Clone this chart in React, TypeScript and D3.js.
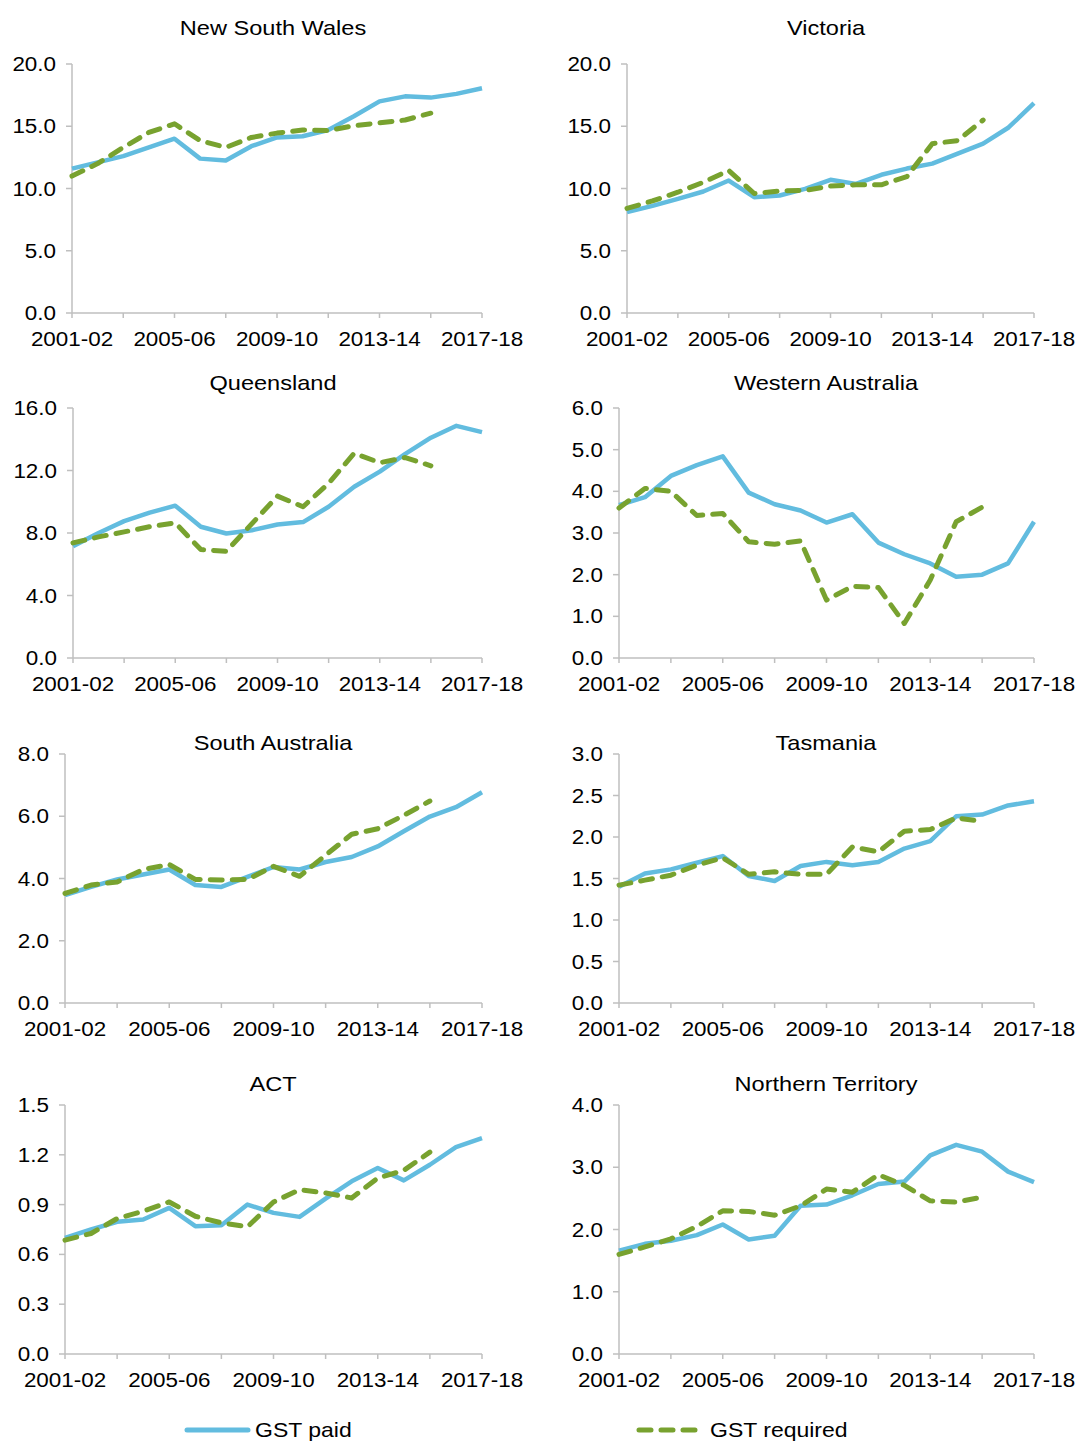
import React from 'react';
import * as d3 from 'd3';

const years = ['2001-02','2002-03','2003-04','2004-05','2005-06','2006-07','2007-08','2008-09','2009-10','2010-11','2011-12','2012-13','2013-14','2014-15','2015-16','2016-17','2017-18'];
const labelYears = ['2001-02','2005-06','2009-10','2013-14','2017-18'];
const tickYears = years.filter((_, i) => i % 2 === 0);

const nswPaid = [11.6,12.1,12.6,13.3,14.0,12.4,12.25,13.4,14.1,14.2,14.7,15.8,17.0,17.4,17.3,17.6,18.05];
const nswRequired = [11.0,12.0,13.3,14.5,15.2,13.85,13.3,14.1,14.45,14.7,14.65,15.05,15.27,15.5,16.05];
const vicPaid = [8.1,8.6,9.17,9.76,10.64,9.3,9.44,9.97,10.7,10.37,11.1,11.6,12.0,12.8,13.6,14.9,16.85];
const vicRequired = [8.4,9.0,9.7,10.5,11.45,9.6,9.8,9.85,10.2,10.3,10.3,10.95,13.6,13.85,15.5];
const qldPaid = [7.16,8.0,8.76,9.3,9.75,8.4,7.97,8.18,8.54,8.7,9.68,10.96,11.93,13.06,14.1,14.86,14.46];
const qldRequired = [7.37,7.75,8.07,8.4,8.65,6.94,6.83,8.6,10.36,9.68,11.18,13.1,12.5,12.83,12.3];
const waPaid = [3.67,3.86,4.37,4.63,4.84,3.97,3.69,3.54,3.25,3.45,2.77,2.49,2.27,1.95,2.0,2.27,3.27];
const waRequired = [3.6,4.07,4.0,3.42,3.47,2.79,2.73,2.81,1.39,1.72,1.69,0.83,1.87,3.27,3.62];
const saPaid = [3.47,3.73,3.97,4.13,4.29,3.79,3.73,4.05,4.37,4.29,4.53,4.69,5.03,5.52,5.99,6.29,6.77];
const saRequired = [3.52,3.79,3.89,4.29,4.45,3.97,3.95,3.97,4.39,4.07,4.75,5.42,5.6,6.03,6.49];
const tasPaid = [1.4,1.56,1.61,1.69,1.77,1.53,1.47,1.65,1.7,1.66,1.7,1.86,1.95,2.25,2.27,2.38,2.43];
const tasRequired = [1.42,1.48,1.54,1.66,1.75,1.55,1.58,1.55,1.55,1.88,1.82,2.07,2.09,2.23,2.19];
const actPaid = [0.70,0.75,0.796,0.81,0.88,0.77,0.776,0.90,0.85,0.826,0.936,1.04,1.12,1.046,1.14,1.246,1.30];
const actRequired = [0.686,0.726,0.816,0.86,0.916,0.83,0.79,0.766,0.916,0.99,0.97,0.94,1.06,1.106,1.216];
const ntPaid = [1.66,1.77,1.82,1.91,2.08,1.84,1.9,2.38,2.4,2.55,2.73,2.77,3.19,3.36,3.25,2.93,2.76];
const ntRequired = [1.6,1.72,1.85,2.05,2.3,2.29,2.23,2.38,2.65,2.6,2.88,2.71,2.46,2.44,2.52];

const titles = ['New South Wales','Victoria','Queensland','Western Australia','South Australia','Tasmania','ACT','Northern Territory'];
const paidSeries = [nswPaid, vicPaid, qldPaid, waPaid, saPaid, tasPaid, actPaid, ntPaid];
const requiredSeries = [nswRequired, vicRequired, qldRequired, waRequired, saRequired, tasRequired, actRequired, ntRequired];
const yMax = [20, 20, 16, 6, 8, 3, 1.5, 4];
const yStep = [5, 5, 4, 1, 2, 0.5, 0.3, 1];
const legendLabels = ['GST paid', 'GST required'];

// layout
const layout = [
  { x0: 72, x1: 482, top: 64, bottom: 313, cx: 273, ty: 35 },
  { x0: 627, x1: 1034, top: 64, bottom: 313, cx: 826, ty: 35 },
  { x0: 73, x1: 482, top: 408, bottom: 658, cx: 273, ty: 390 },
  { x0: 619, x1: 1034, top: 408, bottom: 658, cx: 826, ty: 390 },
  { x0: 65, x1: 482, top: 754, bottom: 1003, cx: 273, ty: 750 },
  { x0: 619, x1: 1034, top: 754, bottom: 1003, cx: 826, ty: 750 },
  { x0: 65, x1: 482, top: 1105, bottom: 1354, cx: 273, ty: 1091 },
  { x0: 619, x1: 1034, top: 1105, bottom: 1354, cx: 826, ty: 1091 },
];

const BLUE = '#62bcdf';
const GREEN = '#78a22f';
const AXIS = '#bfbfbf';
const FONT = '"Liberation Sans", Arial, sans-serif';
const SX = 1.15;

function T({ x, y, anchor = 'middle', size = 19.5, children }: any) {
  return (
    <text transform={`translate(${x},${y}) scale(${SX},1)`} textAnchor={anchor} fontSize={size} fontFamily={FONT} fill="#000">
      {children}
    </text>
  );
}

function Panel({ i }: { i: number }) {
  const L = layout[i];
  const x = d3.scalePoint<string>().domain(years).range([L.x0, L.x1]);
  const y = d3.scaleLinear().domain([0, yMax[i]]).range([L.bottom, L.top]);
  const n = Math.round(yMax[i] / yStep[i]);
  const yTicks = d3.range(n + 1).map((k) => +(k * yStep[i]).toFixed(2));
  const line = d3.line<number>().x((_, k) => x(years[k]) as number).y((d) => y(d));
  return (
    <g>
      <T x={L.cx} y={L.ty} size={20.5}>{titles[i]}</T>
      <line x1={L.x0} x2={L.x0} y1={L.top} y2={L.bottom} stroke={AXIS} strokeWidth={1.5} />
      <line x1={L.x0} x2={L.x1} y1={L.bottom} y2={L.bottom} stroke={AXIS} strokeWidth={1.5} />
      {yTicks.map((t) => (
        <g key={t}>
          <line x1={L.x0 - 6} x2={L.x0} y1={y(t)} y2={y(t)} stroke={AXIS} strokeWidth={1.5} />
          <T x={L.x0 - 16} y={y(t) + 7} anchor="end">{t.toFixed(1)}</T>
        </g>
      ))}
      {tickYears.map((yr) => (
        <line key={yr} x1={x(yr)} x2={x(yr)} y1={L.bottom} y2={L.bottom + 5} stroke={AXIS} strokeWidth={1.5} />
      ))}
      {labelYears.map((yr) => (
        <T key={yr} x={x(yr) as number} y={L.bottom + 33}>{yr}</T>
      ))}
      <path d={line(paidSeries[i]) || ''} fill="none" stroke={BLUE} strokeWidth={4.5} strokeLinejoin="round" />
      <path d={line(requiredSeries[i]) || ''} fill="none" stroke={GREEN} strokeWidth={5} strokeDasharray="12 10" strokeLinecap="round" strokeLinejoin="round" />
    </g>
  );
}

export default function App() {
  return (
    <svg width={1079} height={1441} style={{ position: 'absolute', left: 0, top: 0, display: 'block', background: '#fff' }}>
      <rect width={1079} height={1441} fill="#fff" />
      {titles.map((_, i) => <Panel key={i} i={i} />)}
      <line x1={187} x2={248} y1={1430} y2={1430} stroke={BLUE} strokeWidth={5} strokeLinecap="round" />
      <T x={255} y={1437} anchor="start" size={20}>{legendLabels[0]}</T>
      <line x1={639} x2={700} y1={1430} y2={1430} stroke={GREEN} strokeWidth={5} strokeDasharray="12 10" strokeLinecap="round" />
      <T x={710} y={1437} anchor="start" size={20}>{legendLabels[1]}</T>
    </svg>
  );
}
